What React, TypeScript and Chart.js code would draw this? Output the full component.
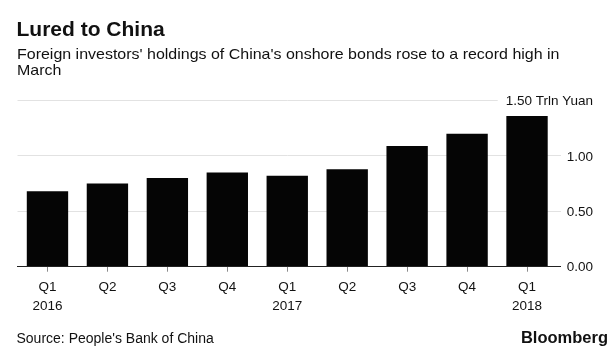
import React, { useEffect, useRef } from "react";
import { Chart, registerables } from "chart.js";

Chart.register(...registerables);

const categories: (string | string[])[] = [
  ["Q1", "2016"], "Q2", "Q3", "Q4",
  ["Q1", "2017"], "Q2", "Q3", "Q4",
  ["Q1", "2018"],
];
const holdings = [0.68, 0.75, 0.8, 0.85, 0.82, 0.88, 1.09, 1.2, 1.36];
const yTicks = [0, 0.5, 1.0, 1.5];
const unitLabel = "Trln Yuan";

const FONT = '"Liberation Sans", Arial, Helvetica, sans-serif';

const yLabelPlugin = {
  id: "yLabels",
  afterDraw(chart: any) {
    const s = chart.scales.y;
    const ctx = chart.ctx;
    const area = chart.chartArea;
    ctx.save();
    ctx.font = `13.5px ${FONT}`;
    ctx.textAlign = "right";
    ctx.textBaseline = "middle";
    const x = area.right + 36;
    yTicks.forEach((v, i) => {
      const y = s.getPixelForValue(v);
      const last = i === yTicks.length - 1;
      const text = v.toFixed(2) + (last ? " " + unitLabel : "");
      const w = ctx.measureText(text).width;
      if (last) {
        ctx.fillStyle = "#ffffff";
        ctx.fillRect(x - w - 8, y - 3, w + 9, 6);
      }
      ctx.fillStyle = "#111111";
      ctx.fillText(text, x, y + 1);
    });
    ctx.restore();
  },
};

export default function App() {
  const ref = useRef<HTMLCanvasElement | null>(null);

  useEffect(() => {
    document.body.style.margin = "0";
    const canvas = ref.current;
    if (!canvas) return;
    const chart = new Chart(canvas, {
      type: "bar",
      data: {
        labels: categories as any,
        datasets: [
          {
            data: holdings,
            backgroundColor: "#050505",
            borderWidth: 0,
            barPercentage: 0.69,
            categoryPercentage: 1,
          },
        ],
      },
      options: {
        responsive: false,
        animation: false,
        layout: { padding: { left: 17.5, top: 100.5, right: 0, bottom: 0 } },
        plugins: {
          legend: { display: false },
          tooltip: { enabled: false },
          title: { display: false },
        },
        scales: {
          x: {
            type: "category",
            grid: {
              display: true,
              drawOnChartArea: false,
              drawTicks: true,
              tickLength: 5,
              color: "#8a8a8a",
              offset: false,
            },
            border: { display: true, color: "#222222", width: 1, z: 2 },
            ticks: {
              color: "#111111",
              padding: 6.5,
              maxRotation: 0,
              autoSkip: false,
              font: { family: FONT, size: 13.5, lineHeight: 1.4 },
            },
            afterFit: (scale: any) => {
              scale.height = 88.3;
            },
          },
          y: {
            position: "right",
            min: 0,
            max: 1.5,
            afterBuildTicks: (scale: any) => {
              scale.ticks = yTicks.map((v) => ({ value: v }));
            },
            grid: {
              color: (c: any) => (c.tick && c.tick.value === 0 ? "#222222" : "#e2e2e2"),
              lineWidth: 1,
              drawTicks: true,
              tickLength: 4,
            },
            border: { display: false },
            ticks: { display: false },
            afterFit: (scale: any) => {
              scale.width = 59;
            },
          },
        },
      },
      plugins: [yLabelPlugin],
    });
    return () => chart.destroy();
  }, []);

  const textBase: React.CSSProperties = {
    position: "absolute",
    fontFamily: FONT,
    color: "#111111",
    whiteSpace: "nowrap",
    zIndex: 2,
  };

  return (
    <div style={{ position: "relative", width: 616, height: 355, background: "#ffffff", overflow: "hidden" }}>
      <canvas
        ref={ref}
        width={616}
        height={355}
        style={{ position: "absolute", left: 0, top: 0, width: 616, height: 355 }}
      />
      <div style={{ ...textBase, left: 16.5, top: 18.2, fontSize: 21, lineHeight: "21px", fontWeight: 700 }}>
        Lured to China
      </div>
      <div
        style={{
          ...textBase,
          left: 16.5,
          top: 46,
          fontSize: 15,
          lineHeight: "16.4px",
          transform: "scaleX(1.065)",
          transformOrigin: "0 0",
        }}
      >
        Foreign investors' holdings of China's onshore bonds rose to a record high in
        <br />
        March
      </div>
      <div style={{ ...textBase, left: 16.5, top: 331.4, fontSize: 14, lineHeight: "14px" }}>
        Source: People's Bank of China
      </div>
      <div style={{ ...textBase, right: 8, top: 329.3, fontSize: 16.5, lineHeight: "16.5px", fontWeight: 700 }}>
        Bloomberg
      </div>
    </div>
  );
}
